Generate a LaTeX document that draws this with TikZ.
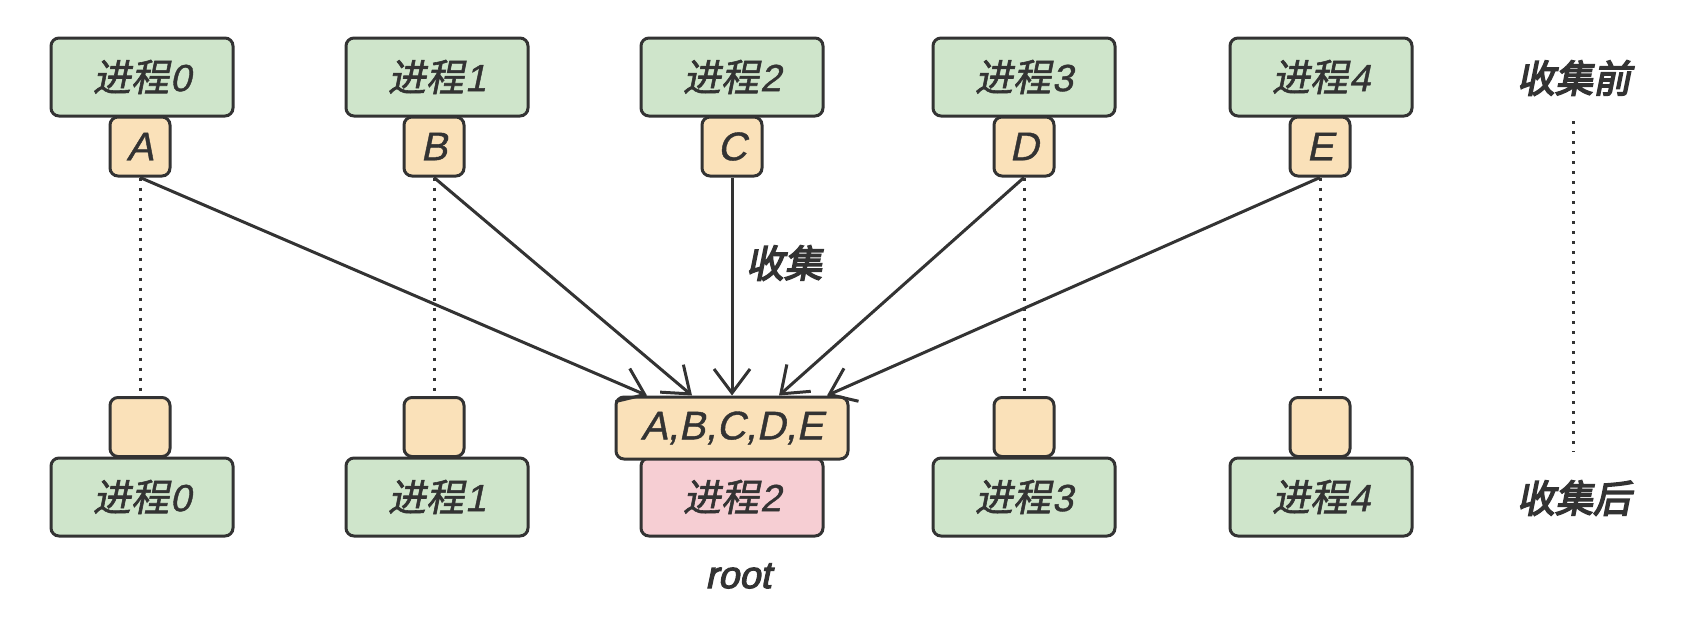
\documentclass[tikz,border=0pt]{standalone}
\usepackage{fontspec}
\newfontfamily\cjk[FakeSlant=0.2,FakeBold=1.5]{Noto Sans CJK SC}
\newfontfamily\cjkb[FakeSlant=0.2,FakeBold=4]{Noto Sans CJK SC}
\newfontfamily\lat[FakeSlant=0.21,FakeBold=1]{Liberation Sans}
\newfontfamily\latb[FakeSlant=0.21,FakeBold=3]{Liberation Sans}
\usetikzlibrary{arrows.meta}
\definecolor{gfill}{HTML}{CFE5CB}
\definecolor{ofill}{HTML}{FAE1B9}
\definecolor{pfill}{HTML}{F6CED3}
\definecolor{lnc}{HTML}{333333}
\definecolor{txt}{HTML}{333333}
\newcommand{\pn}[1]{{\cjk 进程}\kern1pt{\lat #1}}
\tikzset{
  box/.style={draw=lnc, line width=3pt, rounded corners=8pt, inner sep=0pt, text=txt},
  proc/.style={box, fill=gfill, minimum width=182pt, minimum height=78pt},
  rootproc/.style={box, fill=pfill, minimum width=182pt, minimum height=78pt},
  datab/.style={box, fill=ofill, minimum width=60pt, minimum height=59pt, font=\lat\fontsize{40}{44}\selectfont},
  rootdata/.style={box, fill=ofill, minimum width=232pt, minimum height=62pt, font=\lat\fontsize{40}{44}\selectfont},
  arr/.style={draw=lnc, line width=3pt, -{Straight Barb[length=24pt, width=36pt, line width=3pt]}},
  dots/.style={draw=lnc, line width=3pt, dash pattern=on 3pt off 7pt},
  lbl/.style={text=txt, inner sep=0pt, font=\cjkb\fontsize{38}{40}\selectfont}
}
\begin{document}
\begin{tikzpicture}[x=1pt,y=-1pt, font=\cjk\fontsize{38}{40}\selectfont]
\useasboundingbox (0,0) rectangle (1696,624);
% top row
\node[proc] (p0) at (142,77) {\pn{0}};
\node[proc] (p1) at (437,77) {\pn{1}};
\node[proc] (p2) at (732,77) {\pn{2}};
\node[proc] (p3) at (1024,77) {\pn{3}};
\node[proc] (p4) at (1321,77) {\pn{4}};
\node[datab] (a) at (140,146.5) {A};
\node[datab] (b) at (434,146.5) {B};
\node[datab] (c) at (732,146.5) {C};
\node[datab] (d) at (1024,146.5) {D};
\node[datab] (e) at (1320,146.5) {E};
% bottom row
\node[proc] (q0) at (142,497) {\pn{0}};
\node[proc] (q1) at (437,497) {\pn{1}};
\node[rootproc] (q2) at (732,497) {\pn{2}};
\node[proc] (q3) at (1024,497) {\pn{3}};
\node[proc] (q4) at (1321,497) {\pn{4}};
\node[datab] (a2) at (140,427) {};
\node[datab] (b2) at (434,427) {};
\node[rootdata] (r) at (732,428) {A,B,C,D,E};
\node[datab] (d2) at (1024,427) {};
\node[datab] (e2) at (1320,427) {};
% dotted
\draw[dots] (a.south) -- (a2.north);
\draw[dots] (b.south) -- (b2.north);
\draw[dots] (d.south) -- (d2.north);
\draw[dots] (e.south) -- (e2.north);
% arrows
\draw[arr] (a.south) -- ([xshift=-85pt]r.north);
\draw[arr] (b.south) -- ([xshift=-40pt]r.north);
\draw[arr] (c.south) -- (r.north);
\draw[arr] (d.south) -- ([xshift=47pt]r.north);
\draw[arr] (e.south) -- ([xshift=95pt]r.north);
% labels
\node[lbl] (gl) at (784,263) {收集};
\node[text=txt, inner sep=0pt, font=\latb\fontsize{38}{40}\selectfont] (rl) at (738,576) {root};
\node[lbl] (before) at (1574,78) {收集前};
\node[lbl] (after) at (1574,498) {收集后};
\coordinate (s1) at (1573,121);
\coordinate (s2) at (1573,452);
\draw[dots] (s1) -- (s2);
\end{tikzpicture}
\end{document}
